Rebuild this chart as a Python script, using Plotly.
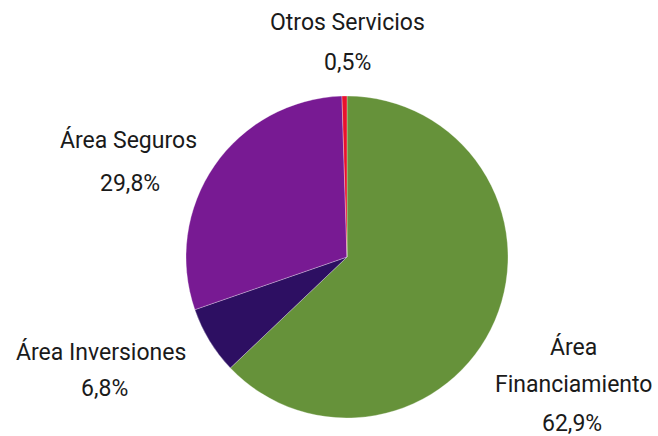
import plotly.graph_objects as go

categories = ["Área Financiamiento", "Área Inversiones", "Área Seguros", "Otros Servicios"]
values = [62.9, 6.8, 29.8, 0.5]
colors = ["#66923A", "#2D0F62", "#781A93", "#E8122D"]
label_lines = [["Área", "Financiamiento"], ["Área Inversiones"], ["Área Seguros"], ["Otros Servicios"]]

# label anchor positions (px from left, px from top) per category
label_pos = [(573, 347), (101, 352), (128, 140), (347, 22)]
pct_pos = [(572, 423), (104, 388), (130, 183), (347, 62)]

W, H = 658, 436
fig = go.Figure(go.Pie(
    labels=categories, values=values, sort=False, direction="clockwise", rotation=0,
    marker=dict(colors=colors, line=dict(color="white", width=0.3)),
    textinfo="none", hoverinfo="label+percent", showlegend=False,
    domain=dict(x=[186/W, 508/W], y=[(H-257-161)/H, (H-257+161)/H]),
))

font = dict(family="Roboto, sans-serif", size=23, color="#1a1a1a")
anns = []
for lines, (lx, ly), (px, py), v in zip(label_lines, label_pos, pct_pos, values):
    for i, t in enumerate(lines):
        anns.append(dict(text=t, x=lx/W, y=1-(ly + i*37)/H, xref="paper", yref="paper",
                         showarrow=False, font=font, xanchor="center", yanchor="middle"))
    anns.append(dict(text=(f"{v:.1f}%").replace(".", ","), x=px/W, y=1-py/H, xref="paper", yref="paper",
                     showarrow=False, font=font, xanchor="center", yanchor="middle"))

fig.update_layout(width=W, height=H, margin=dict(l=0, r=0, t=0, b=0),
                  paper_bgcolor="white", plot_bgcolor="white", annotations=anns)
fig.write_html("out.html", config={"displayModeBar": False},
               post_script="document.body.style.margin='0';")
